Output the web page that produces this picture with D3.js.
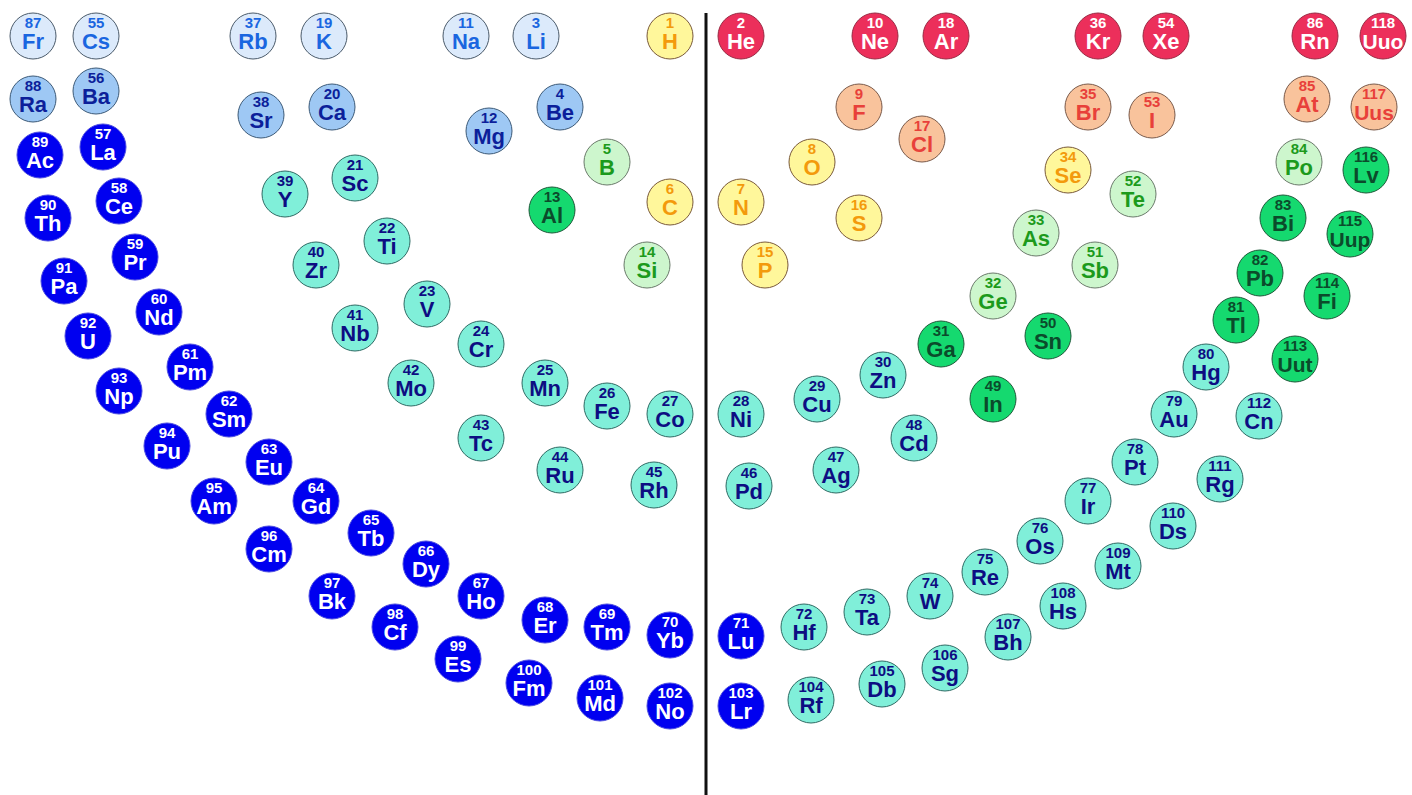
<!DOCTYPE html>
<html>
<head>
<meta charset="utf-8">
<script src="https://cdn.jsdelivr.net/npm/d3@7/dist/d3.min.js"></script>
<style>
  html, body { margin: 0; padding: 0; background: #ffffff; }
  svg { display: block; }
</style>
</head>
<body>
<svg id="chart" width="1412" height="795"></svg>
<script>
// ---- DATA (ordered by atomic number 1..118) ----
const symbols = ["H","He","Li","Be","B","C","N","O","F","Ne","Na","Mg","Al","Si","P","S","Cl","Ar",
  "K","Ca","Sc","Ti","V","Cr","Mn","Fe","Co","Ni","Cu","Zn","Ga","Ge","As","Se","Br","Kr",
  "Rb","Sr","Y","Zr","Nb","Mo","Tc","Ru","Rh","Pd","Ag","Cd","In","Sn","Sb","Te","I","Xe",
  "Cs","Ba","La","Ce","Pr","Nd","Pm","Sm","Eu","Gd","Tb","Dy","Ho","Er","Tm","Yb","Lu",
  "Hf","Ta","W","Re","Os","Ir","Pt","Au","Hg","Tl","Pb","Bi","Po","At","Rn",
  "Fr","Ra","Ac","Th","Pa","U","Np","Pu","Am","Cm","Bk","Cf","Es","Fm","Md","No","Lr",
  "Rf","Db","Sg","Bh","Hs","Mt","Ds","Rg","Cn","Uut","Fi","Uup","Lv","Uus","Uuo"];

// category codes: A alkali, E alkaline earth, L lanthanide/actinide, T transition,
// P post-transition, M metalloid, N nonmetal, H halogen, G noble gas
const categories = ["N","G","A","E","M","N","N","N","H","G","A","E","P","M","N","N","H","G",
  "A","E","T","T","T","T","T","T","T","T","T","T","P","M","M","N","H","G",
  "A","E","T","T","T","T","T","T","T","T","T","T","P","P","M","M","H","G",
  "A","E","L","L","L","L","L","L","L","L","L","L","L","L","L","L","L",
  "T","T","T","T","T","T","T","T","T","P","P","P","M","H","G",
  "A","E","L","L","L","L","L","L","L","L","L","L","L","L","L","L","L",
  "T","T","T","T","T","T","T","T","T","P","P","P","P","H","G"];

// layout coordinates of each element in the curved table (layout units)
const layoutX = [670,741,536,560,607,670,741,812,859,875,466,489,552,647,765,859,922,946,
  324,332,355,387,427,481,545,607,670,741,817,883,941,993,1036,1068,1088,1098,
  253,261,285,316,355,411,481,560,654,749,836,914,993,1048,1095,1133,1152,1166,
  96,96,103,119,135,159,190,229,269,316,371,426,481,545,607,670,741,
  804,867,930,985,1040,1088,1135,1174,1206,1236,1260,1283,1299,1307,1315,
  33,33,40,48,64,88,119,167,214,269,332,395,458,529,600,670,741,
  811,882,945,1008,1063,1118,1173,1220,1259,1295,1327,1350,1366,1374,1383];
const layoutY = [36,36,36,107,162,202,202,162,107,36,36,131,210,265,265,218,139,36,
  36,107,178,241,304,344,383,406,414,414,399,375,344,296,233,170,107,36,
  36,115,194,265,328,383,438,470,485,486,470,438,399,336,265,194,115,36,
  36,91,147,201,257,312,367,414,462,501,533,564,596,620,627,635,636,
  627,612,596,572,541,501,462,414,367,320,273,218,162,99,36,
  36,99,155,218,281,336,391,446,501,549,596,627,659,683,698,706,706,
  700,684,668,637,606,566,526,479,416,359,296,234,170,107,36];

// divider position (layout units)
const dividerX = 706;

// ---- STYLES per category ----
const catFill   = {A:"#dceafb",E:"#9ec8f4",L:"#0000f0",T:"#80efd9",P:"#15d96f",M:"#cdf6cd",N:"#fff79b",H:"#f9c39c",G:"#ec2f5b"};
const catText   = {A:"#1a66e0",E:"#0c1f9a",L:"#ffffff",T:"#0d0d82",P:"#0b4b2b",M:"#1c9a1c",N:"#f39a0c",H:"#e8403a",G:"#ffffff"};
const catStroke = {A:"#4a5a6a",E:"#3c5a78",L:"#4a4ae0",T:"#2e6b64",P:"#1e5a3a",M:"#6a7a6a",N:"#7a5a3a",H:"#7a5a4a",G:"#9a2a44"};

const W = 1412, H = 795, R = 23;
const svg = d3.select("#chart");
svg.append("rect").attr("width", W).attr("height", H).attr("fill", "#ffffff");

const x = d3.scaleLinear().domain([0, 1412]).range([0, W]);
const y = d3.scaleLinear().domain([0, 795]).range([0, H]);

const data = symbols.map((s, i) => ({
  num: i + 1, sym: s, cat: categories[i], x: layoutX[i], y: layoutY[i]
}));

svg.append("line")
  .attr("x1", x(dividerX)).attr("x2", x(dividerX))
  .attr("y1", y(13)).attr("y2", H)
  .attr("stroke", "#111").attr("stroke-width", 3);

const g = svg.append("g").selectAll("g.el").data(data).join("g")
  .attr("class", "el")
  .attr("transform", d => `translate(${x(d.x)},${y(d.y)})`);

g.append("circle")
  .attr("r", R)
  .attr("fill", d => catFill[d.cat])
  .attr("stroke", d => catStroke[d.cat])
  .attr("stroke-width", 1);

g.append("text")
  .attr("text-anchor", "middle")
  .attr("y", -8)
  .attr("font-family", "'Liberation Sans', Arial, sans-serif")
  .attr("font-weight", "bold")
  .attr("font-size", 15)
  .attr("fill", d => catText[d.cat])
  .text(d => d.num);

g.append("text")
  .attr("text-anchor", "middle")
  .attr("y", 13)
  .attr("font-family", "'Liberation Sans', Arial, sans-serif")
  .attr("font-weight", "bold")
  .attr("font-size", d => d.sym.length > 2 ? 21 : 22)
  .attr("fill", d => catText[d.cat])
  .text(d => d.sym);
</script>
</body>
</html>
